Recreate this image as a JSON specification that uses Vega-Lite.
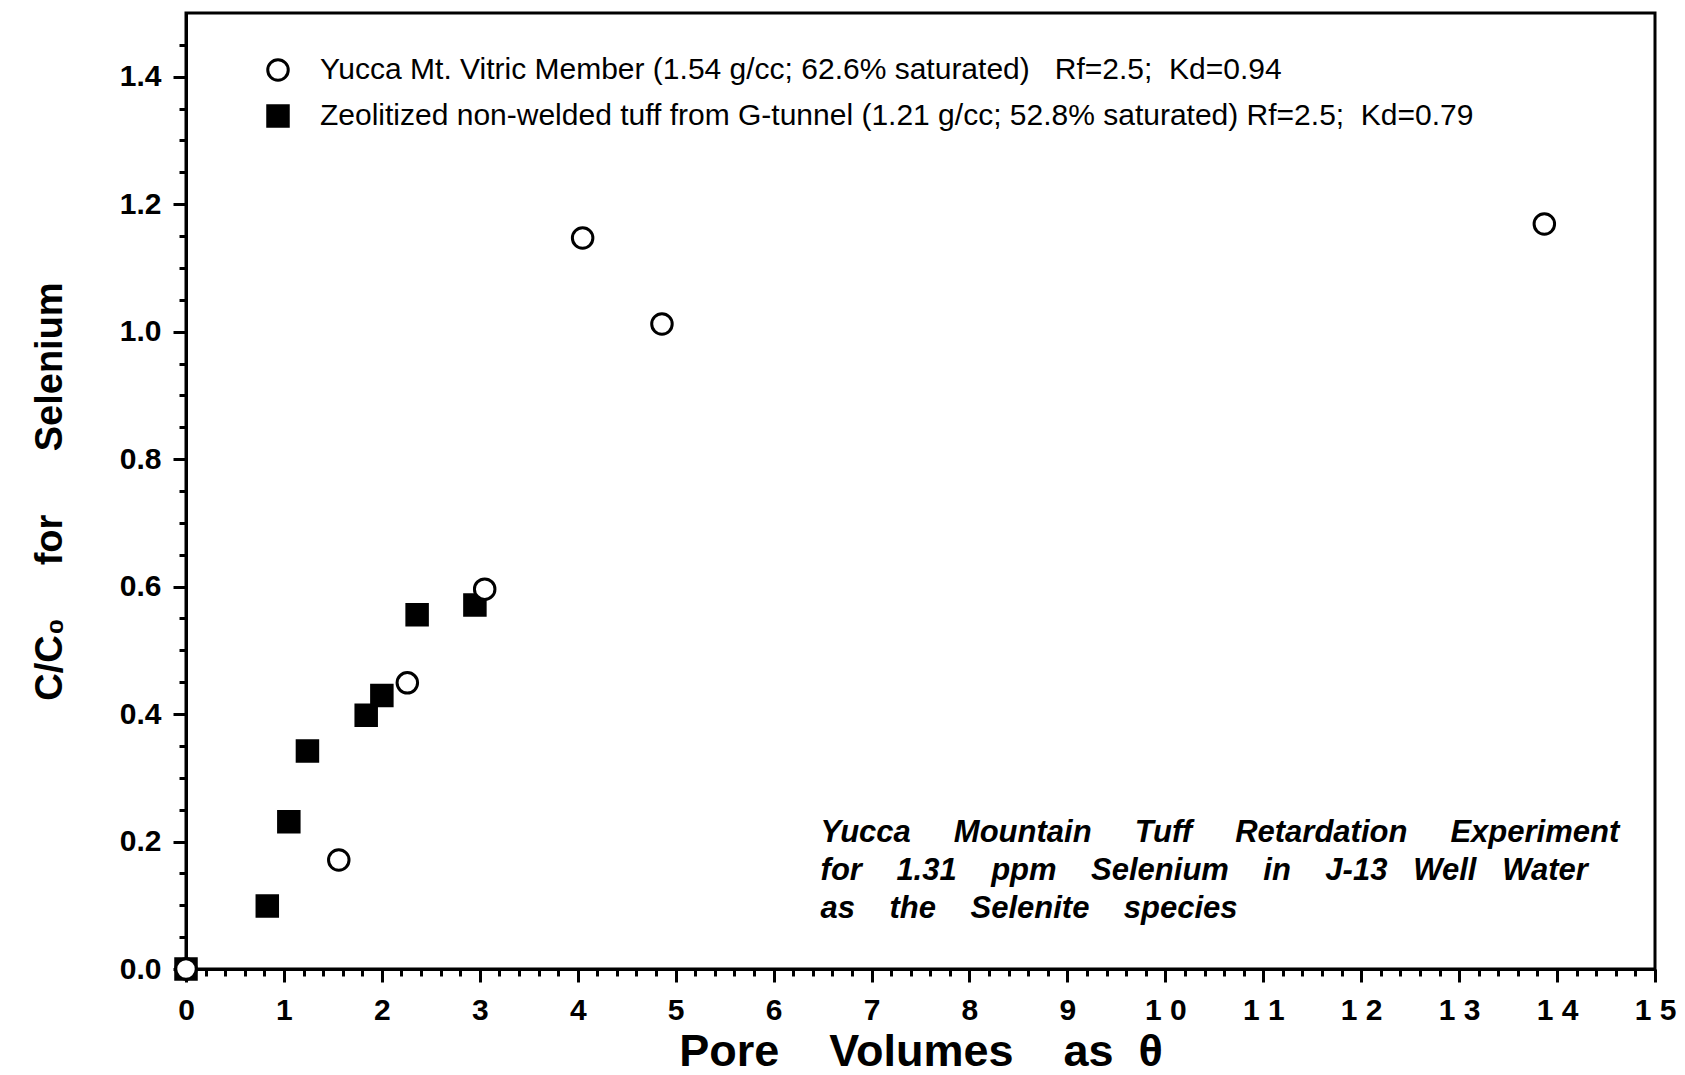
{
  "$schema": "https://vega.github.io/schema/vega-lite/v6.json",
  "autosize": "none",
  "padding": {"left": 186, "top": 13, "right": 30, "bottom": 106},
  "width": 1469,
  "height": 956,
  "background": "white",
  "config": {
    "font": "Liberation Sans",
    "view": {"stroke": "black", "strokeWidth": 3},
    "axis": {"grid": false, "domainColor": "black", "domainWidth": 3, "tickColor": "black", "tickWidth": 3, "labelColor": "black", "titleColor": "black"},
    "legend": {"padding": 0, "offset": 0}
  },
  "resolve": {"axis": {"x": "independent", "y": "independent"}},
  "layer": [
    {
      "data": {"values": [
        {"pv": 0.0, "c": 0.0, "series": "Zeolitized non-welded tuff from G-tunnel (1.21 g/cc; 52.8% saturated) Rf=2.5;\u00a0\u00a0Kd=0.79"},
        {"pv": 0.83, "c": 0.099, "series": "Zeolitized non-welded tuff from G-tunnel (1.21 g/cc; 52.8% saturated) Rf=2.5;\u00a0\u00a0Kd=0.79"},
        {"pv": 1.05, "c": 0.231, "series": "Zeolitized non-welded tuff from G-tunnel (1.21 g/cc; 52.8% saturated) Rf=2.5;\u00a0\u00a0Kd=0.79"},
        {"pv": 1.24, "c": 0.342, "series": "Zeolitized non-welded tuff from G-tunnel (1.21 g/cc; 52.8% saturated) Rf=2.5;\u00a0\u00a0Kd=0.79"},
        {"pv": 1.84, "c": 0.398, "series": "Zeolitized non-welded tuff from G-tunnel (1.21 g/cc; 52.8% saturated) Rf=2.5;\u00a0\u00a0Kd=0.79"},
        {"pv": 2.0, "c": 0.429, "series": "Zeolitized non-welded tuff from G-tunnel (1.21 g/cc; 52.8% saturated) Rf=2.5;\u00a0\u00a0Kd=0.79"},
        {"pv": 2.36, "c": 0.556, "series": "Zeolitized non-welded tuff from G-tunnel (1.21 g/cc; 52.8% saturated) Rf=2.5;\u00a0\u00a0Kd=0.79"},
        {"pv": 2.95, "c": 0.571, "series": "Zeolitized non-welded tuff from G-tunnel (1.21 g/cc; 52.8% saturated) Rf=2.5;\u00a0\u00a0Kd=0.79"},
        {"pv": 0.0, "c": 0.0, "series": "Yucca Mt. Vitric Member (1.54 g/cc; 62.6% saturated)\u00a0\u00a0\u00a0Rf=2.5;\u00a0\u00a0Kd=0.94"},
        {"pv": 1.56, "c": 0.171, "series": "Yucca Mt. Vitric Member (1.54 g/cc; 62.6% saturated)\u00a0\u00a0\u00a0Rf=2.5;\u00a0\u00a0Kd=0.94"},
        {"pv": 2.26, "c": 0.449, "series": "Yucca Mt. Vitric Member (1.54 g/cc; 62.6% saturated)\u00a0\u00a0\u00a0Rf=2.5;\u00a0\u00a0Kd=0.94"},
        {"pv": 3.05, "c": 0.596, "series": "Yucca Mt. Vitric Member (1.54 g/cc; 62.6% saturated)\u00a0\u00a0\u00a0Rf=2.5;\u00a0\u00a0Kd=0.94"},
        {"pv": 4.05, "c": 1.147, "series": "Yucca Mt. Vitric Member (1.54 g/cc; 62.6% saturated)\u00a0\u00a0\u00a0Rf=2.5;\u00a0\u00a0Kd=0.94"},
        {"pv": 4.86, "c": 1.012, "series": "Yucca Mt. Vitric Member (1.54 g/cc; 62.6% saturated)\u00a0\u00a0\u00a0Rf=2.5;\u00a0\u00a0Kd=0.94"},
        {"pv": 13.87, "c": 1.169, "series": "Yucca Mt. Vitric Member (1.54 g/cc; 62.6% saturated)\u00a0\u00a0\u00a0Rf=2.5;\u00a0\u00a0Kd=0.94"}
      ]},
      "mark": {"type": "point", "filled": true, "strokeWidth": 3, "size": 420, "opacity": 1},
      "encoding": {
        "x": {"field": "pv", "type": "quantitative",
          "scale": {"domain": [0, 15], "nice": false, "zero": false},
          "axis": {"orient": "bottom", "values": [0,1,2,3,4,5,6,7,8,9,10,11,12,13,14,15],
            "tickSize": 13, "labelFont": "Liberation Sans", "labelFontWeight": "bold", "labelFontSize": 30,
            "labelPadding": 13, "labelFlush": false, "labelOverlap": false, "labelBound": false,
            "labelExpr": "datum.value >= 10 ? '1 ' + (datum.value - 10) : datum.label",
            "title": "Pore\u00a0\u00a0\u00a0\u00a0Volumes\u00a0\u00a0\u00a0\u00a0as\u00a0\u00a0\u03b8",
            "titleFont": "Liberation Sans", "titleFontWeight": "bold", "titleFontSize": 45, "titlePadding": 4}},
        "y": {"field": "c", "type": "quantitative",
          "scale": {"domain": [0, 1.5], "nice": false},
          "axis": {"orient": "left", "values": [0, 0.2, 0.4, 0.6, 0.8, 1.0, 1.2, 1.4], "format": ".1f",
            "tickSize": 13, "labelFont": "Liberation Sans", "labelFontWeight": "bold", "labelFontSize": 30,
            "labelPadding": 12, "labelOverlap": false, "labelFlush": false, "labelBound": false,
            "title": "C/C\u2080\u00a0\u00a0\u00a0\u00a0\u00a0for\u00a0\u00a0\u00a0\u00a0\u00a0\u00a0Selenium",
            "titleFont": "Liberation Sans", "titleFontWeight": "bold", "titleFontSize": 38, "titlePadding": 50}},
        "shape": {"field": "series", "type": "nominal",
          "scale": {"domain": ["Yucca Mt. Vitric Member (1.54 g/cc; 62.6% saturated)\u00a0\u00a0\u00a0Rf=2.5;\u00a0\u00a0Kd=0.94", "Zeolitized non-welded tuff from G-tunnel (1.21 g/cc; 52.8% saturated) Rf=2.5;\u00a0\u00a0Kd=0.79"], "range": ["circle", "square"]},
          "legend": {"orient": "none", "legendX": 77, "legendY": 42, "title": null, "labelFont": "Liberation Sans", "labelFontSize": 30, "labelColor": "black", "labelLimit": 0, "labelOffset": 27, "rowPadding": 12, "symbolSize": 420, "symbolStrokeWidth": 3}},
        "fill": {"field": "series", "type": "nominal",
          "scale": {"domain": ["Yucca Mt. Vitric Member (1.54 g/cc; 62.6% saturated)\u00a0\u00a0\u00a0Rf=2.5;\u00a0\u00a0Kd=0.94", "Zeolitized non-welded tuff from G-tunnel (1.21 g/cc; 52.8% saturated) Rf=2.5;\u00a0\u00a0Kd=0.79"], "range": ["white", "black"]},
          "legend": {"orient": "none", "legendX": 77, "legendY": 42, "title": null, "labelFont": "Liberation Sans", "labelFontSize": 30, "labelColor": "black", "labelLimit": 0, "labelOffset": 27, "rowPadding": 12, "symbolSize": 420, "symbolStrokeWidth": 3}},
        "stroke": {"field": "series", "type": "nominal",
          "scale": {"domain": ["Yucca Mt. Vitric Member (1.54 g/cc; 62.6% saturated)\u00a0\u00a0\u00a0Rf=2.5;\u00a0\u00a0Kd=0.94", "Zeolitized non-welded tuff from G-tunnel (1.21 g/cc; 52.8% saturated) Rf=2.5;\u00a0\u00a0Kd=0.79"], "range": ["black", "black"]},
          "legend": {"orient": "none", "legendX": 77, "legendY": 42, "title": null, "labelFont": "Liberation Sans", "labelFontSize": 30, "labelColor": "black", "labelLimit": 0, "labelOffset": 27, "rowPadding": 12, "symbolSize": 420, "symbolStrokeWidth": 3}}
      }
    },
    {
      "data": {"values": [
        {"tx": 6.48, "ty": 0.199, "line": "Yucca\u00a0\u00a0\u00a0\u00a0\u00a0Mountain\u00a0\u00a0\u00a0\u00a0\u00a0Tuff\u00a0\u00a0\u00a0\u00a0\u00a0Retardation\u00a0\u00a0\u00a0\u00a0\u00a0Experiment"},
        {"tx": 6.48, "ty": 0.140, "line": "for\u00a0\u00a0\u00a0\u00a01.31\u00a0\u00a0\u00a0\u00a0ppm\u00a0\u00a0\u00a0\u00a0Selenium\u00a0\u00a0\u00a0\u00a0in\u00a0\u00a0\u00a0\u00a0J-13\u00a0\u00a0\u00a0Well\u00a0\u00a0\u00a0Water"},
        {"tx": 6.48, "ty": 0.080, "line": "as\u00a0\u00a0\u00a0\u00a0the\u00a0\u00a0\u00a0\u00a0Selenite\u00a0\u00a0\u00a0\u00a0species"}
      ]},
      "mark": {"type": "text", "align": "left", "baseline": "alphabetic", "font": "Liberation Sans", "fontSize": 31, "fontStyle": "italic", "fontWeight": "bold", "color": "black"},
      "encoding": {
        "x": {"field": "tx", "type": "quantitative",
          "axis": {"orient": "bottom", "values": [0.2,0.4,0.6,0.8,1.2,1.4,1.6,1.8,2.2,2.4,2.6,2.8,3.2,3.4,3.6,3.8,4.2,4.4,4.6,4.8,5.2,5.4,5.6,5.8,6.2,6.4,6.6,6.8,7.2,7.4,7.6,7.8,8.2,8.4,8.6,8.8,9.2,9.4,9.6,9.8,10.2,10.4,10.6,10.8,11.2,11.4,11.6,11.8,12.2,12.4,12.6,12.8,13.2,13.4,13.6,13.8,14.2,14.4,14.6,14.8],
            "tickSize": 7, "labels": false, "domain": false, "title": null}},
        "y": {"field": "ty", "type": "quantitative",
          "axis": {"orient": "left", "values": [0.05,0.1,0.15,0.25,0.3,0.35,0.45,0.5,0.55,0.65,0.7,0.75,0.85,0.9,0.95,1.05,1.1,1.15,1.25,1.3,1.35,1.45],
            "tickSize": 7, "labels": false, "domain": false, "title": null}},
        "text": {"field": "line", "type": "nominal"}
      }
    }
  ]
}
